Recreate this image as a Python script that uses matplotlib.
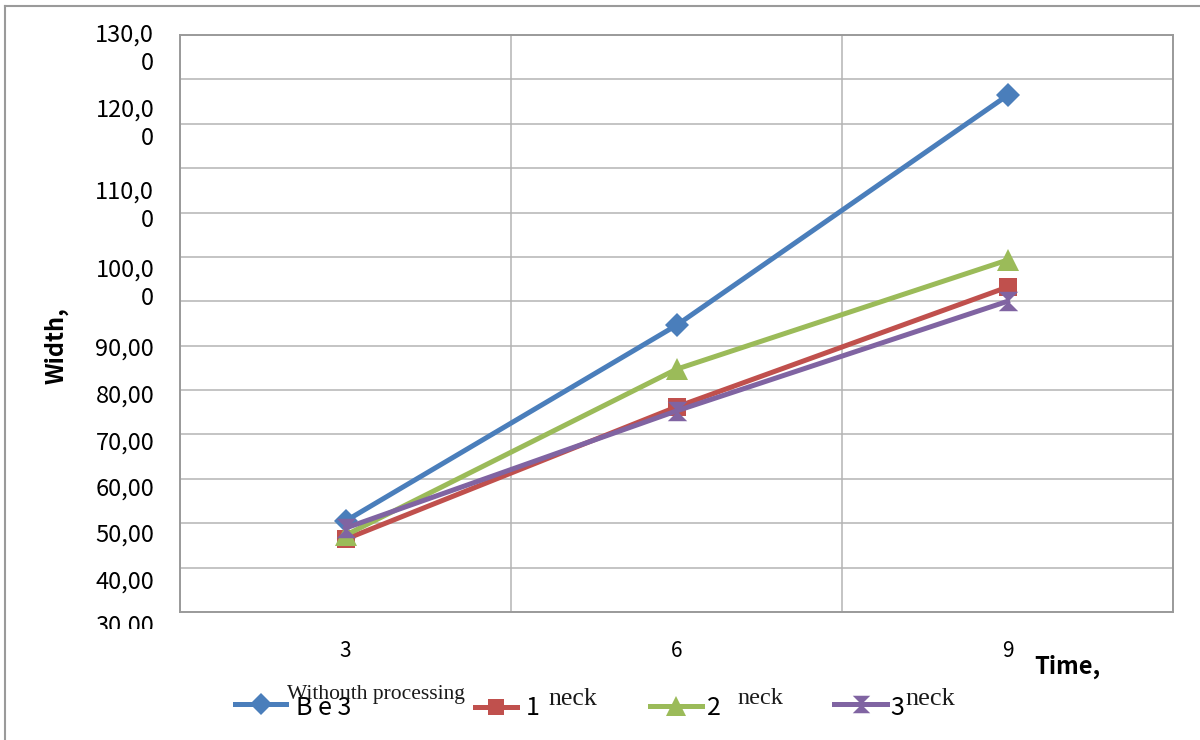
import matplotlib
matplotlib.use("Agg")
import matplotlib.pyplot as plt
from matplotlib.lines import Line2D
from matplotlib.path import Path
from matplotlib.transforms import Bbox
import numpy as np

# ---------------- data ----------------
times = [3, 6, 9]
without_processing = [50.5, 94.6, 146.4]
neck_1 = [46.4, 76.2, 103.2]
neck_2 = [47.3, 84.7, 109.3]
neck_3 = [48.9, 75.3, 100.0]

y_tick_labels = ["130,0\n0", "120,0\n0", "110,0\n0", "100,0\n0",
                 "90,00", "80,00", "70,00", "60,00", "50,00", "40,00", "30,00"]
x_tick_labels = ["3", "6", "9"]
series_first = ["B e 3", "1", "2", "3"]
series_second = ["Withouth processing", "neck", "neck", "neck"]
x_title = "Time,"
y_title = "Width,"

# ---------------- styles ----------------
SANS = ["Noto Sans CJK JP", "DejaVu Sans"]
SERIF = ["Liberation Serif", "DejaVu Serif"]
colors = ["#4A7EBB", "#C0504D", "#9BBB59", "#8064A2"]
hourglass = Path([(-1, 1), (1, 1), (-1, -1), (1, -1), (-1, 1)],
                 [Path.MOVETO, Path.LINETO, Path.LINETO, Path.LINETO, Path.CLOSEPOLY])
markers = ["D", "s", "^", hourglass]
msizes = [12, 13, 16, 14]
second_sizes = [15.5, 18.5, 17.5, 19]

W, H = 1200, 740
fig = plt.figure(figsize=(12, 7.4), dpi=100)
def fx(px): return px / W
def fy(py): return 1 - py / H

ax = fig.add_axes([fx(180), fy(612), fx(1173) - fx(180), fy(35) - fy(612)])
ax.set_xlim(1.5, 10.5)
ax.set_ylim(30, 160)

# gridlines on minor ticks
ax.set_xticks(np.arange(1.5, 10.6, 1.5), minor=True)
ax.set_yticks(np.arange(30, 161, 10), minor=True)
ax.grid(which="minor", color="#b4b4b4", linewidth=1.1)
ax.tick_params(which="minor", length=0)
ax.set_axisbelow(True)

ax.set_xticks(times)
ax.set_xticklabels(x_tick_labels, fontsize=15, family=SANS)
ax.tick_params(axis="x", which="major", length=0, pad=20)

# y tick labels (drawn where the reference draws them)
label_px = [49, 124, 206, 284, 349, 396, 443, 489, 535, 582, 626]
ax.set_yticks([])
bottom_px, per10 = 612, (612 - 35) / 13.0
clip = Bbox.from_extents(0, fy(629) * H, W, H)
for lab, py in zip(y_tick_labels, label_px):
    yv = 30 + (bottom_px - py) / per10 * 10
    t = ax.text(-0.026, yv, lab, transform=ax.get_yaxis_transform(),
                ha="right", va="center", ma="right", fontsize=17,
                linespacing=1.3, family=SANS)
    t.set_clip_on(True)
    t.set_clip_box(clip)

for sp in ax.spines.values():
    sp.set_color("#9a9a9a")
    sp.set_linewidth(1.4)

series = [without_processing, neck_1, neck_2, neck_3]
for vals, c, m, ms in zip(series, colors, markers, msizes):
    ax.plot(times, vals, color=c, linewidth=3.6, marker=m, markersize=ms,
            markeredgewidth=0, zorder=3, clip_on=False)

# axis titles
fig.text(fx(56), fy(346), y_title, rotation=90, ha="center", va="center",
         fontsize=17, fontweight="bold", family=SANS)
fig.text(fx(1034), fy(667), x_title, ha="left", va="center",
         fontsize=17, fontweight="bold", family=SANS)

# legend (manual, as in reference)
leg = [  # line x0, x1, y, text1 x, text1 y, text2 x, text2 y
    (235, 286, 704, 296, 708, 287, 695),
    (475, 517, 707, 526, 708, 548, 699),
    (650, 702, 706, 707, 708, 737, 699),
    (834, 887, 704, 890, 708, 905, 699),
]
for (x0, x1, ly, t1x, t1y, t2x, t2y), c, m, ms, s1, s2, fs2 in zip(
        leg, colors, markers, msizes, series_first, series_second, second_sizes):
    fig.add_artist(Line2D([fx(x0), fx(x1)], [fy(ly), fy(ly)], color=c,
                          linewidth=3.6, transform=fig.transFigure))
    fig.add_artist(Line2D([fx((x0 + x1) / 2)], [fy(ly)], color=c, marker=m,
                          markersize=ms * 0.9, markeredgewidth=0,
                          transform=fig.transFigure))
    fig.text(fx(t1x), fy(t1y), s1, ha="left", va="center", fontsize=18,
             family=SANS)
    fig.text(fx(t2x), fy(t2y), s2, ha="left", va="center", fontsize=fs2,
             family=SERIF, color="#1a1a1a")

# outer frame lines (top and left)
fig.add_artist(Line2D([fx(5), 1], [fy(6), fy(6)], color="#9a9a9a", linewidth=1.5,
                      transform=fig.transFigure))
fig.add_artist(Line2D([fx(5), fx(5)], [fy(6), 0], color="#9a9a9a", linewidth=1.5,
                      transform=fig.transFigure))

fig.savefig("out.png", dpi=100)
